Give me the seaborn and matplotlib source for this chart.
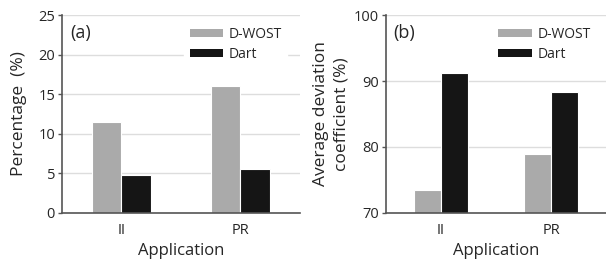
import matplotlib
matplotlib.use('Agg')
import matplotlib.pyplot as plt
import seaborn as sns
import pandas as pd

# values
apps = ['II', 'PR']
methods = ['D-WOST', 'Dart']
pct_dwost = [11.5, 16.0]
pct_dart = [4.8, 5.6]
dev_dwost = [73.5, 79.0]
dev_dart = [91.2, 88.3]

colors = {'D-WOST': '#aaaaaa', 'Dart': '#151515'}


def to_long(a, b):
    return pd.DataFrame({
        'Application': apps * 2,
        'Method': ['D-WOST'] * len(apps) + ['Dart'] * len(apps),
        'value': list(a) + list(b),
    })


sns.set_style('white')
plt.rcParams['font.family'] = ['Open Sans', 'DejaVu Sans']

fig = plt.figure(figsize=(6.06, 2.6), dpi=100)
ax1 = fig.add_axes([0.1023, 0.181, 0.3927, 0.761])
ax2 = fig.add_axes([0.637, 0.181, 0.363, 0.761])


def draw(ax, df, ylim, yticks, ylabel, tag, lpad, legx):
    ax.set_axisbelow(True)
    ax.yaxis.grid(True, color='#dddddd', linewidth=1)
    sns.barplot(data=df, x='Application', y='value', hue='Method',
                hue_order=methods, palette=colors, width=0.49,
                edgecolor='white', linewidth=0.8, ax=ax)
    ax.set_xlim(-0.5, 1.5)
    ax.set_ylim(*ylim)
    ax.set_yticks(yticks)
    for s in ['top', 'right']:
        ax.spines[s].set_visible(False)
    for s in ['left', 'bottom']:
        ax.spines[s].set_color('#555555')
        ax.spines[s].set_linewidth(1.2)
    ax.tick_params(axis='y', left=True, length=3, width=1, color='#555555',
                   labelsize=10.5, pad=2)
    ax.tick_params(axis='x', bottom=False, labelsize=10.5, pad=4)
    ax.set_xlabel('Application', fontsize=12, labelpad=3)
    ax.set_ylabel(ylabel, fontsize=12.5, labelpad=lpad, linespacing=1.4)
    ax.text(0.035, 0.91, tag, transform=ax.transAxes, fontsize=13,
            va='center', ha='left')
    leg = ax.legend(loc='upper right', bbox_to_anchor=(legx, 0.98), frameon=True,
                    fontsize=10, handlelength=2.4, handleheight=0.5,
                    labelspacing=0.3, handletextpad=0.4, borderaxespad=0.2)
    leg.get_frame().set_facecolor('white')
    leg.get_frame().set_edgecolor('white')
    leg.get_frame().set_alpha(1)
    for h in leg.legend_handles:
        h.set_edgecolor('none')


draw(ax1, to_long(pct_dwost, pct_dart), (0, 25), [0, 5, 10, 15, 20, 25],
     'Percentage  (%)', '(a)', 8, 0.958)
draw(ax2, to_long(dev_dwost, dev_dart), (70, 100), [70, 80, 90, 100],
     'Average deviation\ncoefficient (%)', '(b)', 3, 0.968)

fig.savefig('out.png', dpi=100)
